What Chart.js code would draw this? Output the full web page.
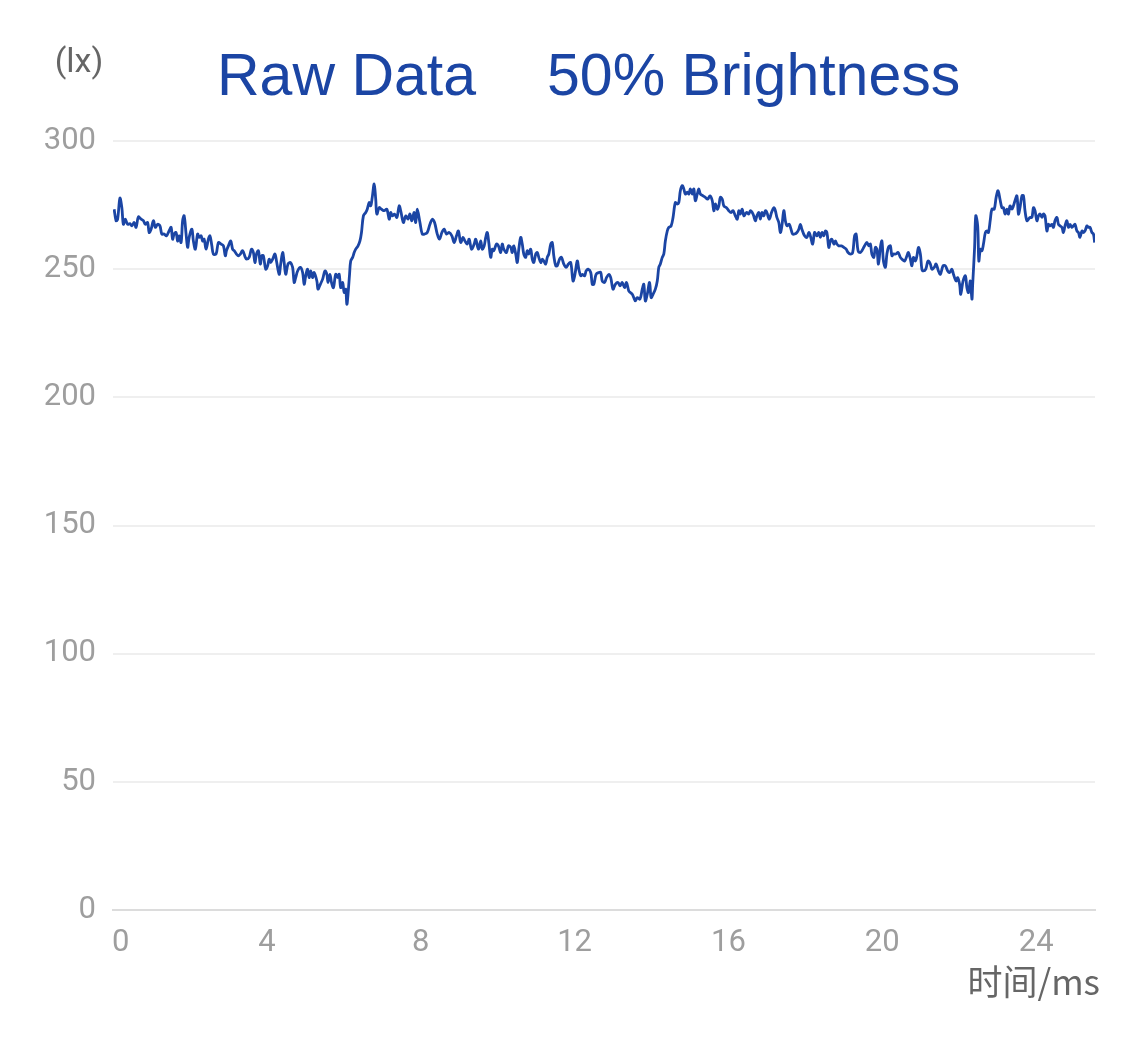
<!DOCTYPE html>
<html>
<head>
<meta charset="utf-8">
<script src="https://cdn.jsdelivr.net/npm/chart.js@4.4.0/dist/chart.umd.min.js"></script>
<style>
  html, body { margin: 0; padding: 0; background: #fff; }
</style>
</head>
<body>
<canvas id="luxChart" width="1125" height="1040"></canvas>
<script>
// sample time (ms) and illuminance (lx)
const timeMs = [
  0.03,0.08,0.12,0.18,0.23,0.27,0.32,0.38,0.44,0.49,
  0.55,0.60,0.66,0.73,0.79,0.84,0.90,0.94,0.99,1.05,
  1.10,1.16,1.22,1.27,1.33,1.39,1.46,1.51,1.55,1.59,
  1.64,1.68,1.72,1.77,1.81,1.85,1.90,1.94,1.98,2.05,
  2.09,2.14,2.20,2.24,2.29,2.33,2.37,2.42,2.48,2.52,
  2.57,2.61,2.68,2.74,2.81,2.87,2.92,2.95,3.00,3.06,
  3.11,3.15,3.21,3.26,3.31,3.37,3.44,3.47,3.54,3.60,
  3.65,3.69,3.73,3.78,3.83,3.87,3.91,3.97,4.02,4.06,
  4.10,
  4.15,4.21,4.25,4.32,4.36,4.41,4.45,4.49,4.55,4.61,
  4.67,4.71,4.75,4.80,4.87,4.93,4.97,5.01,5.06,5.10,
  5.14,5.19,5.23,5.30,5.33,5.39,5.45,5.51,5.56,5.59,
  5.64,5.68,5.73,5.79,5.84,5.88,5.92,5.97,6.01,6.05,
  6.08,6.11,6.15,6.18,6.23,6.27,6.31,6.37,6.42,6.46,
  6.51,6.57,6.61,6.66,6.70,6.74,6.79,6.83,6.86,6.92,
  6.98,7.05,7.12,7.18,7.22,7.26,7.32,7.38,7.44,7.48,
  7.55,7.61,7.67,7.72,7.77,7.83,7.87,7.91,7.98,8.04,
  8.10,8.17,8.24,8.30,8.36,
  8.43,8.49,8.55,8.61,8.67,8.74,8.81,8.87,8.93,8.98,
  9.04,9.10,9.15,9.21,9.26,9.32,9.39,9.43,9.50,9.56,
  9.60,9.65,9.69,9.73,9.77,9.82,9.86,9.90,9.97,10.02,
  10.08,10.12,10.16,10.23,10.28,10.34,10.38,10.42,10.47,10.51,
  10.55,10.60,10.64,10.68,10.73,10.77,10.81,10.86,10.90,10.94,
  10.99,11.03,11.07,11.12,11.16,11.20,11.25,11.29,11.33,11.38,
  11.42,11.46,11.51,11.55,11.61,11.66,11.72,11.78,11.84,11.90,
  11.96,12.01,12.07,12.11,12.16,12.20,12.26,12.30,12.35,12.42,
  12.46,12.50,12.56,12.63,
  12.68,12.72,12.78,12.83,12.89,12.94,13.00,13.06,13.13,13.18,
  13.24,13.30,13.35,13.41,13.45,13.50,13.54,13.58,13.63,13.70,
  13.76,13.80,13.84,13.89,13.95,13.99,14.04,14.10,14.15,14.19,
  14.23,14.28,14.32,14.36,14.41,14.45,14.51,14.56,14.62,14.67,
  14.71,14.75,14.80,14.84,14.88,14.93,14.97,15.01,15.06,15.10,
  15.14,15.19,15.23,15.27,15.34,15.40,15.46,15.52,15.58,15.62,
  15.66,15.71,15.75,15.79,15.84,15.88,15.95,16.01,16.07,16.12,
  16.18,16.23,16.27,16.31,16.36,16.40,16.47,16.53,16.57,16.64,
  16.70,16.74,16.79,16.83,16.87,16.92,
  16.96,17.00,17.06,17.12,17.18,17.22,17.26,17.31,17.35,17.39,
  17.44,17.48,17.52,17.58,17.64,17.67,17.72,17.78,17.83,17.87,
  17.91,17.98,18.04,18.09,18.13,18.19,18.24,18.30,18.35,18.39,
  18.43,18.48,18.52,18.56,18.61,18.65,18.69,18.74,18.78,18.82,
  18.87,18.94,19.00,19.06,19.11,19.17,19.23,19.28,19.32,19.37,
  19.43,19.47,19.54,19.60,19.65,19.69,19.73,19.78,19.82,19.86,
  19.90,19.95,19.99,20.03,20.08,20.12,20.16,20.21,20.25,20.29,
  20.35,20.41,20.47,20.51,20.58,20.64,20.68,20.73,20.77,20.81,
  20.86,20.90,20.94,20.99,21.03,21.07,21.13,21.19,
  21.25,21.29,21.35,21.40,21.46,21.51,21.58,21.64,21.70,21.75,
  21.81,21.85,21.92,21.96,22.01,22.04,22.10,22.16,22.20,22.24,
  22.29,22.33,22.35,22.40,22.43,22.48,22.51,22.55,22.59,22.63,
  22.68,22.72,22.76,22.81,22.85,22.91,22.96,23.01,23.06,23.11,
  23.15,23.19,23.24,23.28,23.32,23.37,23.41,23.45,23.50,23.54,
  23.58,23.63,23.67,23.71,23.76,23.80,23.84,23.89,23.93,23.97,
  24.02,24.06,24.10,24.15,24.19,24.23,24.28,24.32,24.36,24.41,
  24.45,24.49,24.54,24.58,24.62,24.67,24.71,24.75,24.80,24.84,
  24.88,24.93,24.97,25.01,25.06,25.10,25.14,25.19,25.23,25.27,
  25.32,25.36,25.40,25.45,25.49,25.52
];

const luxValues = [
  273.4,268.9,269.5,277.7,274,267.5,269.5,267.5,267.8,266.9,
  268.2,266.3,270.4,269.5,268.9,267.5,268.2,264.3,265.6,268.9,
  266.3,267.5,266.9,263.7,263.7,263,265,266.3,261.7,263.7,
  264.3,261,263,260.4,268.9,270.8,263.7,258.5,262.4,265.6,
  261,257.8,263.7,262.4,263,261,261.7,257.8,261.7,263,
  259.1,255.9,255.9,260.4,259.8,259.1,255.2,257.2,259.1,261,
  257.8,257.2,255.9,255.2,255.9,257.2,254.6,253.9,254.6,257.8,
  256.5,252.6,255.9,257.2,252,255.2,255.2,250,251.3,253.9,
  252.6,
  253.9,255.9,253.2,248,252,256.5,252.6,248,252,252.6,
  250.7,244.8,246.7,249.3,250.7,248.7,244.1,247.4,250,246.7,
  249.3,246.7,248.7,245.4,242.2,244.1,246.1,249.3,248,244.8,
  248,244.8,242.8,248,246.7,248,242.8,244.8,240.9,242.2,
  236.3,240.2,248,253.2,254.6,256.5,257.8,259.1,261,264.3,
  270.8,272.1,273.4,276,274.7,278,283.2,277.3,271.5,274,
  273.4,272.8,273.4,269.5,272.1,270.8,271.5,270.2,274.7,272.8,
  268.2,270.8,269.5,271.5,268.9,272.1,268.2,273.4,268.2,263.7,
  263.7,264.3,267.5,269.5,268.2,
  263.7,261.7,264.3,265.6,263.7,264.3,263,260.4,263,264.9,
  260.4,262.4,261,259.8,261.7,257.8,259.8,261.7,257.8,261,
  257.8,259.1,262.4,264.3,260.4,254.6,257.8,257.2,259.8,259.1,
  256.5,259.8,257.8,256.5,259.1,258.5,256.5,259.1,255.9,252.6,
  257.8,262.4,259.8,255.9,254.6,257.2,255.9,257.8,253.9,252.6,
  255.9,256.5,254.6,252.6,253.9,253.2,252,254.6,255.9,259.8,
  260.4,255.2,251.3,251.3,253.9,254.6,252,250.7,252,252.6,
  245.4,248,253.2,250,247.4,248,247.4,249.3,250,248.7,
  244.1,244.1,248,248.7,
  248.7,245.4,244.8,246.7,248,246.7,242.2,244.1,244.8,243.5,
  244.8,242.8,244.8,241.5,240.9,240.2,238.9,237.6,238.9,238.3,
  242.2,244.1,237.6,240.2,244.8,238.9,240.2,242.2,245.4,250.7,
  252,254.6,255.9,261,264.9,266.3,266.9,270.2,276,275.4,
  276,280.6,282.6,281.3,279.3,280,279.3,281.3,279.3,281.3,
  276.7,279.3,281.3,279.3,278.6,278,277.3,278.6,276.7,272.8,
  275.4,273.4,274.7,278,277.3,274.7,274,272.8,272.1,272.8,
  270.8,269.5,272.8,271.5,273.4,270.8,272.1,271.5,272.8,271.5,
  268.9,270.8,272.1,269.5,272.1,270.8,
  272.8,272.1,269.5,272.1,274,272.8,270.2,268.2,264.3,266.9,
  272.8,268.9,266.9,267.5,264.9,263.7,263.7,264.3,265.6,267.5,
  265.6,263,262.4,264.3,263,259.8,264.3,263,264.3,262.4,
  264.3,263,264.9,264.3,258.5,261,261.7,259.8,261,259.8,
  259.1,259.1,258.5,257.8,256.5,255.9,256.5,263,263.7,257.2,
  256.5,257.2,259.1,260.4,259.1,259.8,255.9,254.6,258.5,257.8,
  252,258.5,261,253.2,250.7,255.9,258.5,259.1,255.2,255.9,
  255.9,256.5,254.6,253.9,253.2,255.2,256.5,253.9,251.3,254.6,
  253.2,255.2,258.5,255.9,250,249.3,250,253.2,
  252,250,250.7,252,249.3,248,251.3,251.3,249.3,248.7,
  250,248,245.4,246.7,244.1,240.2,245.4,247.4,242.8,240.9,
  245.4,238.3,244.1,258.5,270.8,266.9,253.2,257.8,257.2,259.8,
  264.3,264.9,264.3,269.5,273.4,273.4,278,280.6,277.3,274,
  274,271.5,273.4,271.5,274.7,273.4,274.7,276.7,278.6,271.5,
  274,278.6,278.6,272.8,268.9,269.5,270.2,270.2,274,272.8,
  268.9,270.8,271.5,270.2,271.5,270.8,264.9,267.5,266.9,267.5,
  266.3,268.9,270.2,267.5,266.9,266.3,264.3,266.9,268.9,266.3,
  267.5,266.3,266.9,267.5,264.9,264.3,262.4,264.9,264.3,264.9,
  266.9,266.3,266.3,264.3,263.7,260.4
];

const yTicks = [0, 50, 100, 150, 200, 250, 300];
const xTicks = [0, 4, 8, 12, 16, 20, 24];
const titleLeft = 'Raw Data';
const titleRight = '50% Brightness';
const yUnit = '(lx)';
const xUnit = '时间/ms';

const blue = '#1b45a4';
const tickFont = { family: 'Roboto, "Liberation Sans", sans-serif', size: 31 };

const points = timeMs.map((t, i) => ({ x: t, y: luxValues[i] }));

const textPlugin = {
  id: 'chartTexts',
  afterDraw(chart) {
    const c = chart.ctx;
    c.save();
    c.fillStyle = blue;
    c.font = '59px "Liberation Sans", Arial, sans-serif';
    c.textAlign = 'left';
    c.textBaseline = 'alphabetic';
    c.fillText(titleLeft, 217, 95);
    c.fillText(titleRight, 547, 95);

    c.fillStyle = '#666';
    c.font = '34px Roboto, "Liberation Sans", sans-serif';
    c.textAlign = 'center';
    c.textBaseline = 'middle';
    c.fillText(yUnit, 79, 63);

    c.font = '35px "Noto Sans CJK SC", sans-serif';
    c.textAlign = 'right';
    c.fillText(xUnit, 1100, 982);
    c.restore();
  }
};

new Chart(document.getElementById('luxChart'), {
  type: 'line',
  data: {
    datasets: [{
      label: 'lux',
      data: points,
      borderColor: blue,
      borderWidth: 2.8,
      pointRadius: 0,
      tension: 0.35,
      fill: false
    }]
  },
  options: {
    responsive: false,
    animation: false,
    layout: { padding: { top: 141, right: 30, bottom: 0, left: 0 } },
    plugins: {
      legend: { display: false },
      tooltip: { enabled: false }
    },
    scales: {
      x: {
        type: 'linear',
        min: 0,
        max: 25.53,
        afterBuildTicks: s => { s.ticks = xTicks.map(v => ({ value: v })); },
        afterFit: s => { s.height = 130; },
        grid: { display: false, drawTicks: false },
        border: { display: true, color: '#dcdcdc', width: 2 },
        ticks: {
          font: tickFont,
          color: '#9e9e9e',
          padding: 15,
          maxRotation: 0,
          autoSkip: false,
          // first label sits a little right of the axis start, as in the source
          callback: v => v === 0 ? '  0' : String(v)
        }
      },
      y: {
        min: 0,
        max: 300,
        afterBuildTicks: s => { s.ticks = yTicks.map(v => ({ value: v })); },
        afterFit: s => { s.width = 113; },
        grid: {
          drawTicks: false,
          lineWidth: 2,
          color: ctx => ctx.tick && ctx.tick.value === 0 ? '#dcdcdc' : '#efefef'
        },
        border: { display: false },
        ticks: {
          font: tickFont,
          color: '#9e9e9e',
          padding: 17
        }
      }
    }
  },
  plugins: [textPlugin]
});
</script>
</body>
</html>
